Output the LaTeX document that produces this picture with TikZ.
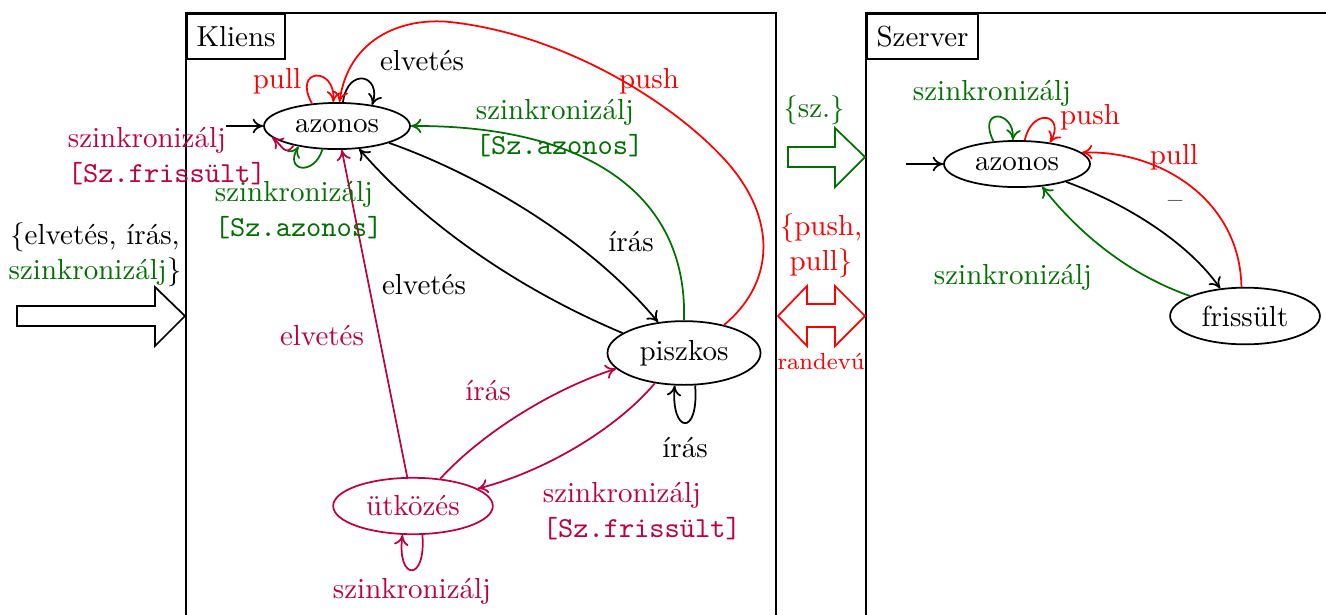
\documentclass[tikz,border=0pt]{standalone}
\usetikzlibrary{shapes.geometric,arrows.meta}
\definecolor{grn}{RGB}{0,112,0}
\tikzset{
  st/.style={ellipse, draw, inner sep=3.33pt},
  lbl/.style={inner sep=0pt},
  ml/.style={align=left, inner sep=0pt},
  titlebox/.style={draw, anchor=north west, minimum height=15.5pt, inner sep=3.33pt},
  bigarrow/.style={line join=miter}
}
\begin{document}
\begin{tikzpicture}[x=0.3448pt,y=-0.3448pt,>={To[length=3.6pt,width=5pt]},semithick]
\useasboundingbox (0,0) rectangle (1326,614);
% frames
\draw (186,13) rectangle (776,640);
\draw (866,13) rectangle (1340,640);
\node[titlebox] (kl) at (186,13) {Kliens};
\node[titlebox] (sz) at (866,13) {Szerver};

% client states
\node[st] (cAz) at (337,126) {azonos};
\node[st] (cPi) at (684,353) {piszkos};
\node[st, purple] (cUt) at (413,506) {ütközés};
% server states
\node[st] (sAz) at (1017,164) {azonos};
\node[st] (sFr) at (1245,316) {frissült};

% initial arrows
\coordinate (cIn) at (226,126);
\coordinate (sIn) at (906,164);
\draw[->] (cIn) -- (cAz);
\draw[->] (sIn) -- (sAz);

% client edges
\draw[red,->] (cAz.138) .. controls +(-20,-36) and +(3,-36) .. (cAz.99);
\draw[->] (cAz.76) .. controls +(5,-36) and +(10,-30) .. (cAz.31);
\draw[red,->] (cPi.35) .. controls (772,285) and (778,225) .. (732,168)
   .. controls (684,110) and (570,35) .. (450,22)
   .. controls (400,17) and (348,40) .. (cAz.84);
\draw[grn,->] (cPi.north) .. controls (688,190) and (580,125) .. (cAz.east);
\draw[->] (cAz.-18) .. controls (480,175) and (590,240) .. (cPi.130);
\draw[->] (cPi.162) .. controls (520,290) and (425,225) .. (cAz.-46);
\draw[purple,->] (cUt) -- (cAz);
\draw[purple,->] (cUt.45) .. controls (480,435) and (550,390) .. (cPi.193);
\draw[purple,->] (cPi.226) .. controls (620,425) and (550,470) .. (cUt.15);
\draw[purple,->] (cUt.-72) .. controls +(4,48) and +(-6,46) .. (cUt.-110);
\draw[->] (cPi.-71) .. controls +(4,52) and +(-4,48) .. (cPi.-106);
\draw[grn,->] (cAz.238) .. controls +(-8,27) and +(-15,25) .. (cAz.208);
\draw[purple,->] (cAz.204) .. controls +(-8,12) and +(10,8) .. (cAz.190);

% client labels
\node[lbl, red] (lPull) at (277,81) {pull};
\node[lbl] (lElv1) at (422,61) {elvetés};
\node[lbl, red] (lPush) at (649,81) {push};
\node[ml, grn, anchor=west] (lSzA) at (475,128) {szinkronizálj\\\texttt{[Sz.azonos]}};
\node[lbl] (lIras) at (631,242) {írás};
\node[lbl] (lElv2) at (424,285) {elvetés};
\node[lbl, purple] (lElv3) at (322,336) {elvetés};
\node[lbl, purple] (lIras2) at (488,391) {írás};
\node[ml, purple, anchor=west] (lSzF) at (542,511) {szinkronizálj\\\texttt{[Sz.frissült]}};
\node[lbl, purple] (lSzU) at (412,591) {szinkronizálj};
\node[lbl] (lIras3) at (685,448) {írás};
\node[ml, purple, anchor=west] (lSzF2) at (67,156) {szinkronizálj\\\texttt{[Sz.frissült]}};
\node[ml, grn, anchor=west] (lSzA2) at (214,210) {szinkronizálj\\\texttt{[Sz.azonos]}};

% server edges
\draw[grn,->] (sAz.136) .. controls +(-17,-34) and +(2,-30) .. (sAz.100);
\draw[red,->] (sAz.72) .. controls +(8,-34) and +(16,-28) .. (sAz.33);
\draw[red,->] (sFr.97) .. controls (1240,200) and (1160,150) .. (sAz.10);
\draw[->] (sAz.-20) .. controls (1130,205) and (1190,245) .. (sFr.132);
\draw[grn,->] (sFr.160) .. controls (1130,275) and (1080,235) .. (sAz.-42);

% server labels
\node[lbl, grn] (sl1) at (992,93) {szinkronizálj};
\node[lbl, red] (sl2) at (1090,117) {push};
\node[lbl, red] (sl3) at (1174,157) {pull};
\node[lbl] (sl4) at (1175,204) {--};
\node[lbl, grn] (sl5) at (1013,277) {szinkronizálj};

% big arrows
\draw[bigarrow] (17,306) -- (155,306) -- (155,287) -- (185,316) -- (155,346) -- (155,326) -- (17,326) -- cycle;
\node[align=center, inner sep=0pt] (lIn) at (95,255) {\{elvetés, írás,\\\textcolor{grn}{szinkronizálj}\}};
\draw[bigarrow, grn] (788,147) -- (835,147) -- (835,128) -- (865,157) -- (835,187) -- (835,167) -- (788,167) -- cycle;
\node[lbl, grn] (lSz) at (814,110) {\{sz.\}};
\draw[bigarrow, red] (778,316) -- (807,286) -- (807,304) -- (835,304) -- (835,286) -- (865,316) -- (835,346) -- (835,327) -- (807,327) -- (807,346) -- cycle;
\node[align=center, inner sep=0pt, red] (lPP) at (821,246) {\{push,\\pull\}};
\node[lbl, red, font=\footnotesize] (lRv) at (821,362) {randevú};
\end{tikzpicture}
\end{document}
